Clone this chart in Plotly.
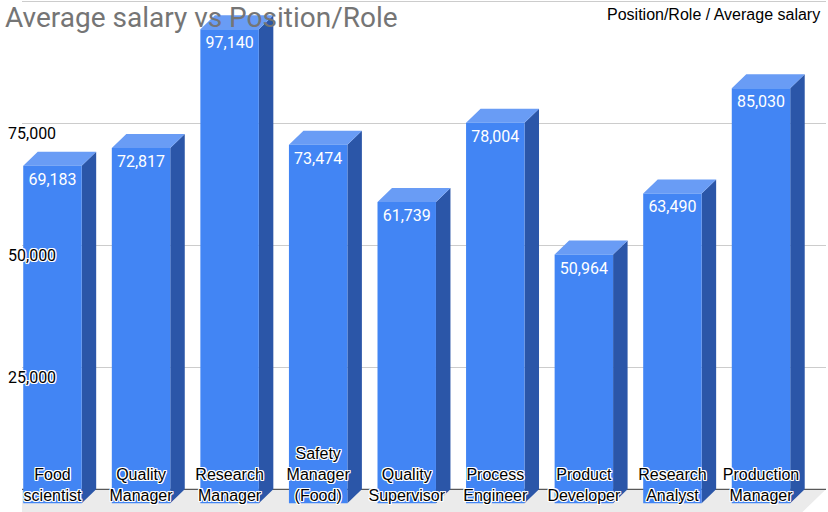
import plotly.graph_objs as go

roles = ['Food<br>scientist', 'Quality<br>Manager', 'Research<br>Manager',
         'Safety<br>Manager<br>(Food)', 'Quality<br>Supervisor', 'Process<br>Engineer',
         'Product<br>Developer', 'Research<br>Analyst', 'Production<br>Manager']
avg_salary = [69183, 72817, 97140, 73474, 61739, 78004, 50964, 63490, 85030]
grid_vals = [25000, 50000, 75000, 100000]
grid_text = ['25,000', '50,000', '75,000', '']

# fake 3d: depth of the boxes in axis units
px_per_unit = 0.00488
depth_y = 14 / px_per_unit
depth_x = 14.5 / 88.56
bar_w = 0.66
label_drop = 15 / px_per_unit

x_lo, x_hi = -0.344, 8.734
y_lo, y_hi = -1783, 103135

front_x, front_y = [], []
side_x, side_y = [], []
top_x, top_y = [], []
for i, v in enumerate(avg_salary):
    l = i - bar_w / 2
    r = i + bar_w / 2
    front_x += [l, r, r, l, l, None]
    front_y += [0, 0, v, v, 0, None]
    side_x += [r, r + depth_x, r + depth_x, r, r, None]
    side_y += [0, depth_y, v + depth_y, v, 0, None]
    top_x += [l, r, r + depth_x, l + depth_x, l, None]
    top_y += [v, v, v + depth_y, v + depth_y, v, None]

floor = go.Scatter(
    x=[x_lo, x_hi, x_hi - 3 * depth_x, x_lo - 3 * depth_x, x_lo],
    y=[depth_y, depth_y, -2 * depth_y, -2 * depth_y, depth_y],
    fill='toself', fillcolor='#ebebeb', mode='none', hoverinfo='skip')
floor_edge = go.Scatter(
    x=[x_lo, x_hi], y=[depth_y, depth_y], mode='lines',
    line=dict(color='#333333', width=1), hoverinfo='skip')
sides = go.Scatter(x=side_x, y=side_y, fill='toself', fillcolor='#2b56a8',
                   mode='lines', line=dict(width=0, color='#2b56a8'), hoverinfo='skip')
tops = go.Scatter(x=top_x, y=top_y, fill='toself', fillcolor='#699cf5',
                  mode='lines', line=dict(width=0, color='#699cf5'), hoverinfo='skip')
fronts = go.Scatter(x=front_x, y=front_y, fill='toself', fillcolor='#4285f4',
                    mode='lines', line=dict(width=0, color='#4285f4'), hoverinfo='skip')
values = go.Scatter(
    x=list(range(len(avg_salary))),
    y=[v - label_drop for v in avg_salary],
    text=[f'{v:,}' for v in avg_salary],
    mode='text', textposition='middle center',
    textfont=dict(family='Roboto', size=16, color='white'),
    hoverinfo='skip')

halo = '1px 1px 0 white, -1px -1px 0 white, 1px -1px 0 white, -1px 1px 0 white, 0 1px 0 white, 0 -1px 0 white, 1px 0 0 white, -1px 0 0 white'

layout = go.Layout(
    width=828, height=512,
    margin=dict(l=22, r=2, t=0, b=0),
    plot_bgcolor='white', paper_bgcolor='white',
    showlegend=False,
    title=dict(text='Average salary vs Position/Role', x=5 / 828, xref='container',
               xanchor='left', y=1 - 17 / 512, yref='container', yanchor='middle',
               font=dict(family='Roboto', size=28, color='#757575')),
    xaxis=dict(range=[x_lo, x_hi], tickvals=list(range(len(roles))), ticktext=roles,
               showgrid=False, zeroline=False, showline=False, ticks='',
               ticklabelposition='inside', ticklabelstandoff=5, ticklabeloverflow='allow',
               tickfont=dict(family='Arial, Liberation Sans', size=16, color='black',
                             shadow=halo)),
    yaxis=dict(range=[y_lo, y_hi], tickvals=[g + depth_y for g in grid_vals],
               ticktext=grid_text, showgrid=True, gridcolor='#cccccc', gridwidth=1,
               zeroline=False, showline=False, ticks='',
               ticklabelposition='inside', ticklabelstandoff=-17, ticklabelshift=10,
               ticklabeloverflow='allow',
               tickfont=dict(family='Roboto', size=16, color='black', shadow=halo)),
    annotations=[dict(text='Position/Role / Average salary', xref='paper', yref='paper',
                      x=1, y=1, xanchor='right', yanchor='middle', xshift=-4, yshift=-14,
                      showarrow=False,
                      font=dict(family='Arial, Liberation Sans', size=16, color='black'))],
)

fig = go.Figure(data=[floor, floor_edge, sides, tops, fronts, values], layout=layout)
fig.write_html('out.html', config={'displayModeBar': False},
               post_script="document.body.style.margin='0';document.body.style.overflow='hidden';")
